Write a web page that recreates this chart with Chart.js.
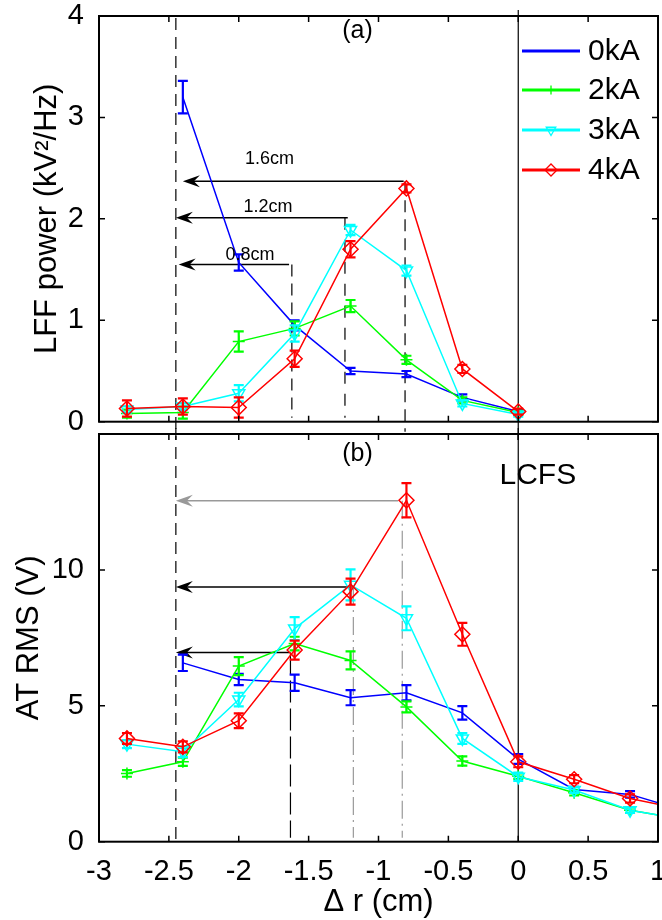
<!DOCTYPE html>
<html>
<head>
<meta charset="utf-8">
<script src="https://cdn.jsdelivr.net/npm/chart.js@4.4.0/dist/chart.umd.min.js"></script>
<style>
  html, body { margin: 0; padding: 0; background: #fff; }
  #wrap { position: relative; width: 662px; height: 920px; }
  #topBox { position: absolute; left: 0; top: 0; width: 662px; height: 440px; }
  #botBox { position: absolute; left: 0; top: 428px; width: 662px; height: 492px; }
</style>
</head>
<body>
<div id="wrap">
  <div id="topBox"><canvas id="topChart"></canvas></div>
  <div id="botBox"><canvas id="botChart"></canvas></div>
</div>
<script>
/* ============================================================
   DATA
============================================================ */

const seriesNames = ["0kA", "2kA", "3kA", "4kA"];

// (a) LFF power (kV^2/Hz)
const xTop = [-2.8, -2.4, -2.0, -1.6, -1.2, -0.8, -0.4, 0];
const lff0 = [null, 3.20, 1.57, 0.95, 0.50, 0.47, 0.24, 0.10];
const lff2 = [0.08, 0.09, 0.79, 0.92, 1.14, 0.61, 0.21, 0.09];
const lff3 = [0.12, 0.15, 0.28, 0.87, 1.89, 1.49, 0.18, 0.07];
const lff4 = [0.13, 0.15, 0.14, 0.62, 1.70, 2.30, 0.52, 0.10];
const lff0Err = [null, 0.16, 0.08, 0.05, 0.03, 0.03, 0.03, 0.02];
const lff2Err = [0.04, 0.06, 0.10, 0.07, 0.06, 0.04, 0.03, 0.02];
const lff3Err = [0.03, 0.03, 0.08, 0.08, 0.05, 0.05, 0.03, 0.02];
const lff4Err = [0.08, 0.08, 0.10, 0.08, 0.08, 0.04, 0.04, 0.03];

// (b) AT RMS (V)
const xBot = [-2.8, -2.4, -2.0, -1.6, -1.2, -0.8, -0.4, 0, 0.4, 0.8, 1.2];
const rms0 = [null, 6.58, 5.97, 5.85, 5.30, 5.48, 4.74, 3.04, 1.92, 1.74, 1.12];
const rms2 = [2.51, 2.94, 6.46, 7.29, 6.67, 4.96, 2.97, 2.41, 1.80, 1.16, 0.80];
const rms3 = [3.59, 3.31, 5.23, 7.84, 9.45, 8.22, 3.80, 2.39, 1.90, 1.16, 0.80];
const rms4 = [3.80, 3.49, 4.45, 7.05, 9.20, 12.56, 7.63, 2.94, 2.30, 1.59, 1.17];
const rms0Err = [null, 0.30, 0.21, 0.30, 0.28, 0.28, 0.25, 0.18, 0.10, 0.12, 0.10];
const rms2Err = [0.12, 0.15, 0.33, 0.25, 0.33, 0.20, 0.17, 0.10, 0.10, 0.10, 0.10];
const rms3Err = [0.15, 0.20, 0.25, 0.42, 0.57, 0.44, 0.20, 0.15, 0.10, 0.10, 0.10];
const rms4Err = [0.20, 0.20, 0.27, 0.35, 0.48, 0.63, 0.42, 0.20, 0.15, 0.15, 0.10];

// guide lines / arrows (data units)
const guideX = -2.45;
const lcfsX = 0;
const arrowTopY = [2.37, 2.01, 1.55];
const arrowTopFrom = [-0.82, -1.22, -1.64];
const arrowTopTip = [-2.40, -2.45, -2.43];
const arrowTopText = ["1.6cm", "1.2cm", "0.8cm"];
const arrowTopTextX = [-1.78, -1.79, -1.92];
const arrowTopTextY = [2.59, 2.12, 1.64];
const dropTopX = [-0.81, -1.24, -1.62];
const arrowBotY = [12.54, 9.37, 6.96];
const arrowBotFrom = [-0.86, -1.19, -1.64];
const dropBotX = [-0.83, -1.18, -1.63];


/* ============================================================
   DEFAULTS
============================================================ */

Chart.defaults.font.family = '"Liberation Sans", Arial, Helvetica, sans-serif';
Chart.defaults.color = "#000";
Chart.defaults.animation = false;

const FONT = '"Liberation Sans", Arial, Helvetica, sans-serif';
const colors = ["#0000ff", "#00ff00", "#00ffff", "#ff0000"];
const styles = [
    { pointStyle: "circle", radius: 0, rotation: 0 },
    { pointStyle: "cross", radius: 6, rotation: 0 },
    { pointStyle: "triangle", radius: 7, rotation: 180 },
    { pointStyle: "rectRot", radius: 7.5, rotation: 0 }
];


/* ============================================================
   PLUGINS
============================================================ */

// error bars, drawn right after each dataset
const errorBars = {
    id: "errorBars",
    afterDatasetDraw(chart, args) {
        const ds = chart.data.datasets[args.index];
        if (!ds.errors) return;
        const { ctx, chartArea: a, scales: { y } } = chart;
        ctx.save();
        ctx.beginPath();
        ctx.rect(a.left, a.top, a.right - a.left, a.bottom - a.top);
        ctx.clip();
        ctx.strokeStyle = ds.borderColor;
        ctx.lineWidth = 2.2;
        ctx.beginPath();
        args.meta.data.forEach((pt, i) => {
            const v = ds.data[i].y, e = ds.errors[i];
            if (v == null || e == null) return;
            const y1 = y.getPixelForValue(v - e);
            const y2 = y.getPixelForValue(v + e);
            ctx.moveTo(pt.x, y1); ctx.lineTo(pt.x, y2);
            ctx.moveTo(pt.x - 5, y1); ctx.lineTo(pt.x + 5, y1);
            ctx.moveTo(pt.x - 5, y2); ctx.lineTo(pt.x + 5, y2);
        });
        ctx.stroke();
        ctx.restore();
    }
};

// box + inward ticks (matlab look)
const frame = {
    id: "frame",
    afterDatasetsDraw(chart) {
        const { ctx, chartArea: a, scales: { x, y } } = chart;
        ctx.save();
        ctx.strokeStyle = "#000";
        ctx.lineWidth = 1.5;
        ctx.beginPath();
        x.ticks.forEach(t => {
            const px = x.getPixelForValue(t.value);
            ctx.moveTo(px, a.bottom); ctx.lineTo(px, a.bottom - 6);
            ctx.moveTo(px, a.top); ctx.lineTo(px, a.top + 6);
        });
        y.ticks.forEach(t => {
            const py = y.getPixelForValue(t.value);
            ctx.moveTo(a.left, py); ctx.lineTo(a.left + 6, py);
            ctx.moveTo(a.right, py); ctx.lineTo(a.right - 6, py);
        });
        ctx.stroke();
        ctx.lineWidth = 2;
        ctx.strokeRect(a.left, a.top, a.right - a.left, a.bottom - a.top);
        ctx.restore();
    }
};

function drawArrow(ctx, x0, xTip, y, color) {
    ctx.strokeStyle = color;
    ctx.fillStyle = color;
    ctx.lineWidth = 1.5;
    ctx.setLineDash([]);
    ctx.beginPath();
    ctx.moveTo(x0, y); ctx.lineTo(xTip + 8, y);
    ctx.stroke();
    ctx.beginPath();
    ctx.moveTo(xTip, y);
    ctx.lineTo(xTip + 17, y - 6);
    ctx.lineTo(xTip + 11, y);
    ctx.lineTo(xTip + 17, y + 6);
    ctx.closePath();
    ctx.fill();
}

function vline(ctx, px, y1, y2, color, dash, w) {
    ctx.strokeStyle = color;
    ctx.lineWidth = w || 1.2;
    ctx.setLineDash(dash);
    ctx.beginPath();
    ctx.moveTo(px, y1); ctx.lineTo(px, y2);
    ctx.stroke();
}

// guide lines, arrows and labels; per-chart setup in options.plugins.guides
const guides = {
    id: "guides",
    beforeDatasetsDraw(chart, args, opts) {
        const { ctx, chartArea: a, scales: { x, y } } = chart;
        const H = chart.height;
        ctx.save();
        const gx = x.getPixelForValue(guideX);
        const lx = x.getPixelForValue(lcfsX);
        if (opts.panel === "a") {
            vline(ctx, gx, a.top + 2, H, "#000", [12, 7]);
            vline(ctx, lx, a.top - 6, H, "#000", [], 1.2);
            dropTopX.forEach((dx, i) => {
                const y0 = y.getPixelForValue(arrowTopY[i]);
                const yEnd = i === 0 ? a.bottom + 10 : a.bottom - 4;
                vline(ctx, x.getPixelForValue(dx), y0, yEnd, "#000", i === 1 ? [12, 10] : [12, 7]);
            });
            arrowTopY.forEach((v, i) => {
                drawArrow(ctx, x.getPixelForValue(arrowTopFrom[i]), x.getPixelForValue(arrowTopTip[i]),
                          y.getPixelForValue(v), "#000");
            });
        } else {
            vline(ctx, gx, 0, a.bottom, "#000", [12, 7]);
            vline(ctx, lx, 0, a.bottom, "#000", [], 1.2);
            const dropStyle = [["#999", [18, 5, 2, 5]], ["#999", [18, 5, 2, 5]], ["#000", [22, 6]]];
            dropBotX.forEach((dx, i) => {
                vline(ctx, x.getPixelForValue(dx), y.getPixelForValue(arrowBotY[i]), a.bottom - 4,
                      dropStyle[i][0], dropStyle[i][1]);
            });
            arrowBotY.forEach((v, i) => {
                drawArrow(ctx, x.getPixelForValue(arrowBotFrom[i]), x.getPixelForValue(guideX),
                          y.getPixelForValue(v), i === 0 ? "#999" : "#000");
            });
        }
        ctx.restore();
    },
    afterDraw(chart, args, opts) {
        const { ctx, scales: { x, y } } = chart;
        ctx.save();
        ctx.fillStyle = "#000";
        ctx.textAlign = "center";
        ctx.textBaseline = "middle";
        if (opts.panel === "a") {
            ctx.font = "25px " + FONT;
            ctx.fillText("(a)", x.getPixelForValue(-1.15), y.getPixelForValue(3.85));
            ctx.font = "18px " + FONT;
            arrowTopText.forEach((t, i) => {
                ctx.fillText(t, x.getPixelForValue(arrowTopTextX[i]), y.getPixelForValue(arrowTopTextY[i]));
            });
        } else {
            ctx.font = "25px " + FONT;
            ctx.fillText("(b)", x.getPixelForValue(-1.15), y.getPixelForValue(14.25));
            ctx.font = "30px " + FONT;
            ctx.fillText("LCFS", x.getPixelForValue(0.14), y.getPixelForValue(13.45));
        }
        ctx.restore();
    }
};

// legend inside panel (a), no box
const legendBox = {
    id: "legendBox",
    afterDraw(chart) {
        if (chart.canvas.id !== "topChart") return;
        const ctx = chart.ctx;
        const x0 = 522, x1 = 580, tx = 588;
        const rows = [51, 90, 130, 170];
        ctx.save();
        ctx.font = "30px " + FONT;
        ctx.textBaseline = "middle";
        ctx.textAlign = "left";
        seriesNames.forEach((name, i) => {
            const yy = rows[i];
            ctx.strokeStyle = colors[i];
            ctx.lineWidth = 3;
            ctx.beginPath(); ctx.moveTo(x0, yy); ctx.lineTo(x1, yy); ctx.stroke();
            if (styles[i].radius > 0) {
                ctx.lineWidth = 1.3;
                ctx.fillStyle = "rgba(0,0,0,0)";
                Chart.helpers.drawPoint(ctx, {
                    pointStyle: styles[i].pointStyle, rotation: styles[i].rotation,
                    radius: styles[i].radius - 1.5, borderWidth: 1.3
                }, (x0 + x1) / 2, yy);
            }
            ctx.fillStyle = "#000";
            ctx.fillText(name, tx, yy + 1);
        });
        ctx.restore();
    }
};


/* ============================================================
   CHART BUILD
============================================================ */

function makeSets(xs, ys, errs) {
    return ys.map((vals, i) => ({
        label: seriesNames[i],
        data: xs.map((x, k) => ({ x: x, y: vals[k] })),
        errors: errs[i],
        borderColor: colors[i],
        backgroundColor: "rgba(0,0,0,0)",
        borderWidth: 1.5,
        pointStyle: styles[i].pointStyle,
        pointRotation: styles[i].rotation,
        pointRadius: styles[i].radius,
        pointBorderWidth: 1.5,
        pointBorderColor: colors[i],
        pointBackgroundColor: "rgba(0,0,0,0)",
        tension: 0,
        order: 4 - i
    }));
}

function xScale(labels) {
    return {
        type: "linear", min: -3, max: 1,
        grid: { display: false }, border: { display: false },
        ticks: {
            display: labels, stepSize: 0.5, padding: 5, autoSkip: false, maxRotation: 0,
            font: { size: 29 }, callback: v => String(v)
        },
        title: {
            display: labels, text: "\u0394 r (cm)",
            font: { size: 31, lineHeight: 1.1 }, padding: 0
        },
        afterFit: s => {
            s.height = labels ? 78.3 : 18.3;
            s.paddingLeft = 0; s.paddingRight = 0;
        }
    };
}

function yScale(max, step, title, titlePad, showMax) {
    return {
        min: 0, max: max,
        grid: { display: false }, border: { display: false },
        ticks: {
            stepSize: step, padding: 7, font: { size: 29 },
            callback: v => (v < max || showMax) ? String(v) : null
        },
        title: { display: true, text: title, font: { size: 31 }, padding: { top: titlePad, bottom: 0 } },
        afterFit: s => { s.width = 99; s.paddingTop = 0; s.paddingBottom = 0; }
    };
}

function makeChart(id, sets, panel, yOpts, xLabels, pad) {
    return new Chart(document.getElementById(id), {
        type: "line",
        data: { datasets: sets },
        options: {
            responsive: true,
            maintainAspectRatio: false,
            animation: false,
            layout: { padding: pad, autoPadding: false },
            plugins: {
                legend: { display: false },
                tooltip: { enabled: false },
                guides: { panel: panel }
            },
            scales: { x: xScale(xLabels), y: yOpts }
        },
        plugins: [guides, errorBars, frame, legendBox]
    });
}

makeChart("topChart",
    makeSets(xTop, [lff0, lff2, lff3, lff4], [lff0Err, lff2Err, lff3Err, lff4Err]),
    "a", yScale(4, 1, "LFF power (kV\u00b2/Hz)", 29, true), false,
    { top: 16, right: 4, left: 0, bottom: 0 });

makeChart("botChart",
    makeSets(xBot, [rms0, rms2, rms3, rms4], [rms0Err, rms2Err, rms3Err, rms4Err]),
    "b", yScale(15, 5, "AT RMS (V)", 11, false), true,
    { top: 6, right: 4, left: 0, bottom: 0 });
</script>
</body>
</html>
